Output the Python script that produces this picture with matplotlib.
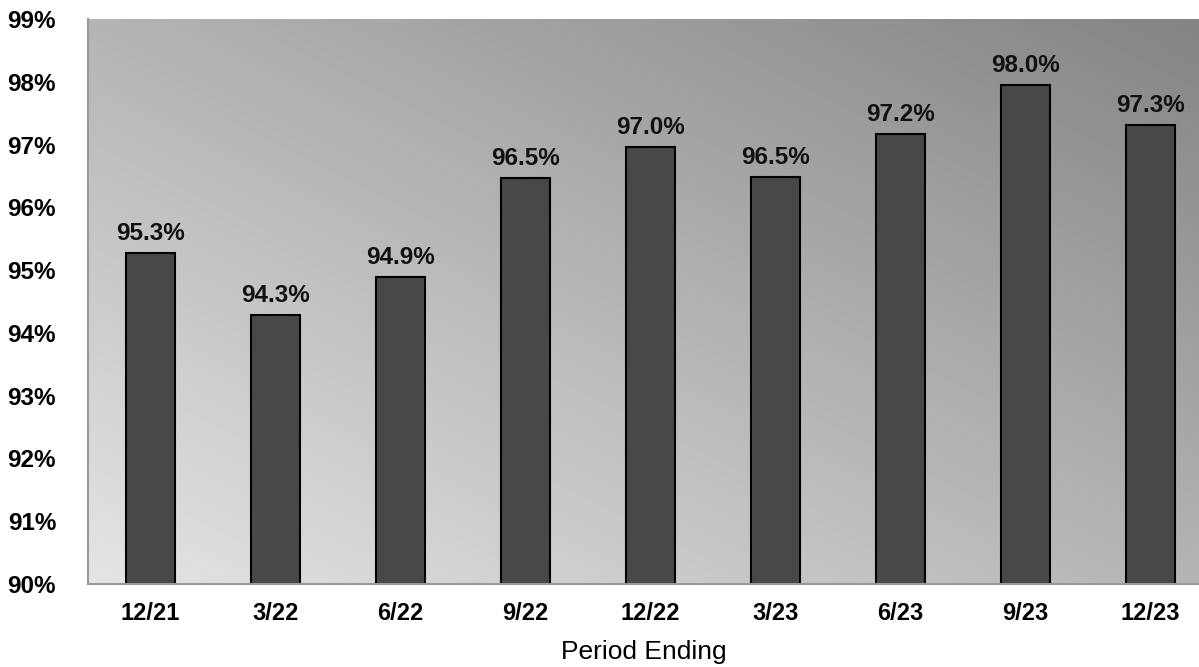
import matplotlib
matplotlib.use("Agg")
import matplotlib.pyplot as plt
import numpy as np

periods = ["12/21", "3/22", "6/22", "9/22", "12/22", "3/23", "6/23", "9/23", "12/23"]
values = [95.27, 94.28, 94.89, 96.46, 96.96, 96.48, 97.17, 97.95, 97.31]
yticks = list(range(90, 100))

plt.rcParams['font.family'] = ['Liberation Sans', 'DejaVu Sans']

fig = plt.figure(figsize=(11.99, 6.67), dpi=100)
ax = fig.add_axes([88 / 1199, 83 / 667, 1 - 88 / 1199, 565 / 667])

# diagonal grey gradient behind the bars
gx, gy = np.meshgrid(np.linspace(0, 1, 400), np.linspace(0, 1, 200))
t = (gx + gy) / 2
shade = 228 - t * 97
img = np.dstack([shade, shade + 1, shade + 2]) / 255.0
img = np.clip(img, 0, 1)
ax.imshow(img, extent=[0, 1, 0, 1], transform=ax.transAxes, origin='lower',
          aspect='auto', zorder=0, interpolation='bilinear')

x = np.arange(len(periods))
bars = ax.bar(x, values, width=0.39, color='#484848', edgecolor='black',
              linewidth=1.5, zorder=2)

for b, v in zip(bars, values):
    ax.annotate(f"{v:.1f}%", (b.get_x() + b.get_width() / 2, v),
                xytext=(0, 6), textcoords='offset points', ha='center', va='bottom',
                fontsize=17.5, fontweight='bold', color='#111111', zorder=3)

ax.set_xlim(-0.5, -0.5 + 1111 / 125)
ax.set_ylim(90, 99)
ax.set_yticks(yticks)
ax.set_yticklabels([f"{v}%" for v in yticks], fontsize=17.5, fontweight='bold')
ax.set_xticks(x)
ax.set_xticklabels(periods, fontsize=17, fontweight='bold')
ax.tick_params(axis='both', length=0)
ax.tick_params(axis='y', pad=23)
ax.tick_params(axis='x', pad=13)
ax.set_xlabel("Period Ending", fontsize=19, labelpad=11)

for side in ['top', 'right']:
    ax.spines[side].set_visible(False)
for side in ['left', 'bottom']:
    ax.spines[side].set_color('#9a9a9a')
    ax.spines[side].set_linewidth(1.5)
    ax.spines[side].set_zorder(4)

fig.savefig("out.png", dpi=100)
